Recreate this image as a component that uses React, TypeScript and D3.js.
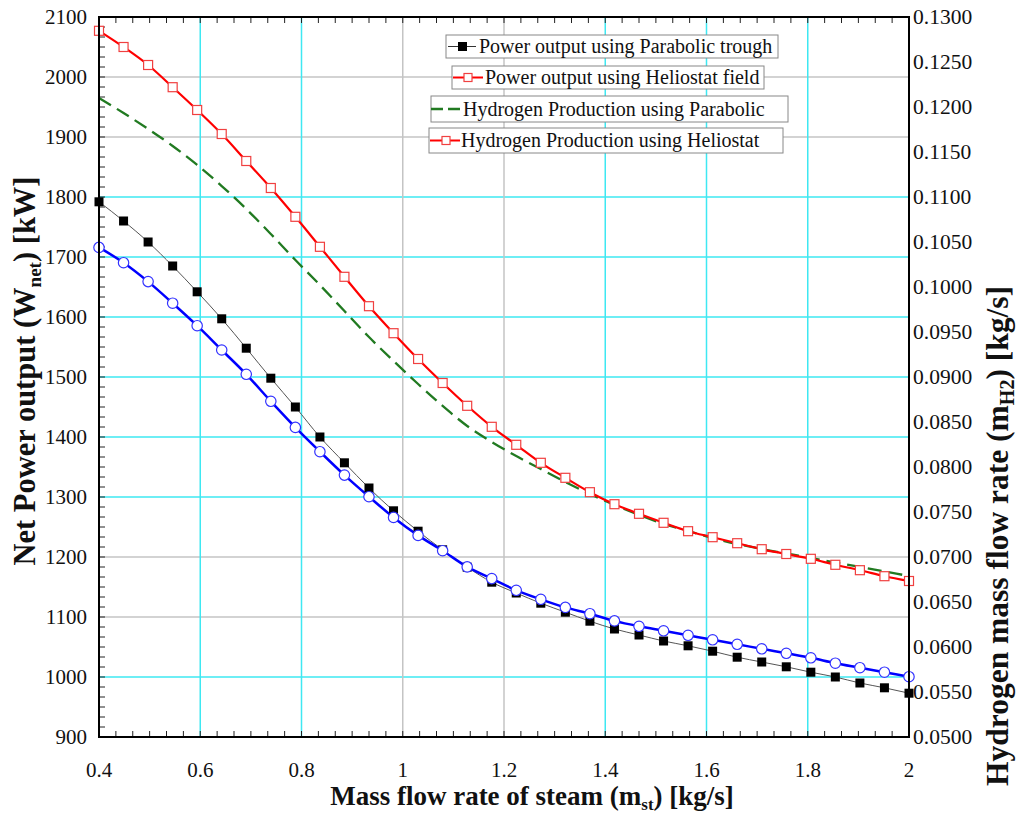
import React from "react";
import * as d3 from "d3";

// x positions (mass flow rate of steam, kg/s)
const massFlow = [
  0.4, 0.4485, 0.497, 0.5455, 0.5939, 0.6424, 0.6909, 0.7394, 0.7879, 0.8364,
  0.8848, 0.9333, 0.9818, 1.0303, 1.0788, 1.1273, 1.1758, 1.2242, 1.2727, 1.3212,
  1.3697, 1.4182, 1.4667, 1.5152, 1.5636, 1.6121, 1.6606, 1.7091, 1.7576, 1.8061,
  1.8545, 1.903, 1.9515, 2.0,
];

// Net power output, parabolic trough [kW] (left axis)
const powerParabolic = [
  1792, 1760, 1725, 1685, 1642, 1597, 1548, 1498, 1450, 1400,
  1357, 1315, 1277, 1243, 1212, 1183, 1158, 1140, 1123, 1108,
  1093, 1080, 1070, 1060, 1052, 1043, 1033, 1025, 1017, 1008,
  1000, 990, 982, 973,
];

// Net power output, heliostat field [kW] (left axis)
const powerHeliostat = [
  2077, 2050, 2020, 1983, 1945, 1905, 1860, 1815, 1767, 1717,
  1667, 1618, 1573, 1530, 1490, 1452, 1417, 1387, 1357, 1332,
  1308, 1288, 1272, 1257, 1243, 1233, 1223, 1213, 1205, 1197,
  1187, 1178, 1168, 1160,
];

// Hydrogen production, parabolic [kg/s] (right axis)
const h2Parabolic = [
  0.1210, 0.11933, 0.11756, 0.11567, 0.11356, 0.11122, 0.10867, 0.10589, 0.1030, 0.10022,
  0.09733, 0.09444, 0.09178, 0.08922, 0.08678, 0.08456, 0.08278, 0.08122, 0.07978, 0.07833,
  0.0770, 0.07578, 0.07467, 0.07367, 0.07289, 0.07211, 0.07144, 0.07089, 0.07039, 0.06989,
  0.06939, 0.06889, 0.06839, 0.06789,
];

// Hydrogen production, heliostat [kg/s] (right axis)
const h2Heliostat = [
  0.1044, 0.1027, 0.1006, 0.0982, 0.0957, 0.0930, 0.0903, 0.0873, 0.0844, 0.0817,
  0.0791, 0.0767, 0.0744, 0.0724, 0.0707, 0.0689, 0.0676, 0.0663, 0.0653, 0.0644,
  0.0637, 0.0629, 0.0623, 0.0618, 0.0613, 0.0608, 0.0603, 0.0598, 0.0593, 0.0588,
  0.0582, 0.0577, 0.0572, 0.0567,
];

const xTicks = [0.4, 0.6, 0.8, 1.0, 1.2, 1.4, 1.6, 1.8, 2.0];
const xTickLabels = ["0.4", "0.6", "0.8", "1", "1.2", "1.4", "1.6", "1.8", "2"];
const leftTicks = [900, 1000, 1100, 1200, 1300, 1400, 1500, 1600, 1700, 1800, 1900, 2000, 2100];
const rightTicks = [
  0.05, 0.055, 0.06, 0.065, 0.07, 0.075, 0.08, 0.085, 0.09, 0.095, 0.1, 0.105,
  0.11, 0.115, 0.12, 0.125, 0.13,
];

const vGrid = [0.6, 0.8, 1.0, 1.2, 1.4, 1.6, 1.8];
const vGridCyan = [true, true, false, false, true, true, true];
const hGrid = [1000, 1100, 1200, 1300, 1400, 1500, 1600, 1700, 1800, 1900, 2000];
const hGridCyan = [true, false, false, true, true, true, true, true, true, false, false];

const legendLabels = [
  "Power output using Parabolic trough",
  "Power output using Heliostat field",
  "Hydrogen Production using Parabolic",
  "Hydrogen Production using Heliostat",
];

const FONT = "'Liberation Serif', 'Times New Roman', serif";
const CYAN = "#3ee8f2";
const GRAY = "#c4c4c4";
const GREEN = "#217a21";

export default function App() {
  const L = 99, R = 909, T = 17, B = 737;
  const x = d3.scaleLinear().domain([0.4, 2]).range([L, R]);
  const yL = d3.scaleLinear().domain([900, 2100]).range([B, T]);
  const yR = d3.scaleLinear().domain([0.05, 0.13]).range([B, T]);

  const lineL = d3
    .line<number>()
    .x((_, i) => x(massFlow[i]))
    .y((d) => yL(d))
    .curve(d3.curveMonotoneX);
  const lineR = d3
    .line<number>()
    .x((_, i) => x(massFlow[i]))
    .y((d) => yR(d))
    .curve(d3.curveMonotoneX);

  const xMinor = d3.range(0, 49).map((i) => 0.4 + (i * 1.6) / 48);
  const yMinor = d3.range(0, 73).map((i) => 900 + (i * 1200) / 72);

  const legendBoxes = [
    { x: 446, y: 35, w: 332, h: 23 },
    { x: 452, y: 66, w: 312, h: 23 },
    { x: 431, y: 96, w: 357, h: 26 },
    { x: 429, y: 128, w: 354, h: 25 },
  ];

  return (
    <svg
      width={1018}
      height={813}
      style={{ position: "absolute", left: 0, top: 0, background: "#fff" }}
      fontFamily={FONT}
    >
      <rect x={0} y={0} width={1018} height={813} fill="#fff" />
      {/* grid */}
      {hGrid.map((v, i) => (
        <line
          key={"h" + i}
          x1={L}
          x2={R}
          y1={yL(v)}
          y2={yL(v)}
          stroke={hGridCyan[i] ? CYAN : GRAY}
          strokeWidth={1.5}
        />
      ))}
      {vGrid.map((v, i) => (
        <line
          key={"v" + i}
          x1={x(v)}
          x2={x(v)}
          y1={T}
          y2={B}
          stroke={vGridCyan[i] ? CYAN : GRAY}
          strokeWidth={1.5}
        />
      ))}

      {/* ticks */}
      {xMinor.map((v, i) => (
        <g key={"xm" + i}>
          <line x1={x(v)} x2={x(v)} y1={B} y2={B - 6} stroke="#222" strokeWidth={1} />
          <line x1={x(v)} x2={x(v)} y1={T} y2={T + 6} stroke="#222" strokeWidth={1} />
        </g>
      ))}
      {yMinor.map((v, i) => (
        <line key={"ym" + i} x1={L} x2={L + 6} y1={yL(v)} y2={yL(v)} stroke="#222" strokeWidth={1} />
      ))}

      {/* series */}
      <path d={lineR(h2Parabolic) || ""} fill="none" stroke={GREEN} strokeWidth={2.3} strokeDasharray="14,7" />
      <path d={lineL(powerHeliostat) || ""} fill="none" stroke="#ff0000" strokeWidth={2.2} />
      <path d={lineL(powerParabolic) || ""} fill="none" stroke="#555" strokeWidth={1} />
      <path d={lineR(h2Heliostat) || ""} fill="none" stroke="#0000ff" strokeWidth={2.5} />

      {powerHeliostat.map((v, i) => (
        <rect
          key={"rh" + i}
          x={x(massFlow[i]) - 4.5}
          y={yL(v) - 4.5}
          width={9}
          height={9}
          fill="#fff"
          stroke="#f04040"
          strokeWidth={1.2}
        />
      ))}
      {powerParabolic.map((v, i) => (
        <rect
          key={"rp" + i}
          x={x(massFlow[i]) - 4.5}
          y={yL(v) - 4.5}
          width={9}
          height={9}
          fill="#000"
        />
      ))}
      {h2Heliostat.map((v, i) => (
        <circle
          key={"ch" + i}
          cx={x(massFlow[i])}
          cy={yR(v)}
          r={5.2}
          fill="#fff"
          stroke="#3333ff"
          strokeWidth={1.2}
        />
      ))}

      {/* frame */}
      <rect x={L} y={T} width={R - L} height={B - T} fill="none" stroke="#000" strokeWidth={2} />

      {/* legend */}
      {legendBoxes.map((b, i) => (
        <rect key={"lb" + i} x={b.x} y={b.y} width={b.w} height={b.h} fill="#fff" stroke="#888" strokeWidth={1} />
      ))}
      <line x1={448} x2={476} y1={46.5} y2={46.5} stroke="#333" strokeWidth={1} />
      <rect x={458} y={42} width={9} height={9} fill="#000" />
      <text x={479} y={53} fontSize={20} fill="#111">{legendLabels[0]}</text>

      <line x1={453} x2={483} y1={77.5} y2={77.5} stroke="#ff0000" strokeWidth={2} />
      <rect x={464} y={73.5} width={8} height={8} fill="#fff" stroke="#f04040" strokeWidth={1.2} />
      <text x={485} y={84} fontSize={20} fill="#111">{legendLabels[1]}</text>

      <line x1={431} x2={461} y1={109} y2={109} stroke={GREEN} strokeWidth={2.3} strokeDasharray="12,5" />
      <text x={463} y={116} fontSize={20} fill="#111">{legendLabels[2]}</text>

      <line x1={430} x2={460} y1={140.5} y2={140.5} stroke="#ff0000" strokeWidth={2} />
      <rect x={442} y={136.5} width={8} height={8} fill="#fff" stroke="#f04040" strokeWidth={1.2} />
      <text x={461} y={147} fontSize={20} fill="#111">{legendLabels[3]}</text>

      {/* tick labels */}
      {xTicks.map((v, i) => (
        <text key={"xl" + i} x={x(v)} y={777} fontSize={21} textAnchor="middle" fill="#111">
          {xTickLabels[i]}
        </text>
      ))}
      {leftTicks.map((v, i) => (
        <text key={"ll" + i} x={87} y={yL(v) + 7} fontSize={21} textAnchor="end" fill="#111">
          {String(v)}
        </text>
      ))}
      {rightTicks.map((v, i) => (
        <text key={"rl" + i} x={913} y={yR(v) + 7} fontSize={21.5} textAnchor="start" fill="#111">
          {v.toFixed(4)}
        </text>
      ))}

      {/* axis titles */}
      <text x={532} y={805} fontSize={27} fontWeight="bold" textAnchor="middle" fill="#111">
        Mass flow rate of steam (m<tspan fontSize={17} dy={5}>st</tspan>
        <tspan dy={-5}>) [kg/s]</tspan>
      </text>
      <text
        transform="translate(35,371) rotate(-90)"
        fontSize={30.5}
        fontWeight="bold"
        textAnchor="middle"
        fill="#111"
      >
        Net Power output (W<tspan fontSize={19} dy={6}>net</tspan>
        <tspan dy={-6}>) [kW]</tspan>
      </text>
      <text
        transform="translate(1008,536) rotate(-90)"
        fontSize={31.5}
        fontWeight="bold"
        textAnchor="middle"
        fill="#111"
      >
        Hydrogen mass flow rate (m<tspan fontSize={20} dy={6}>H2</tspan>
        <tspan dy={-6}>) [kg/s]</tspan>
      </text>
    </svg>
  );
}
